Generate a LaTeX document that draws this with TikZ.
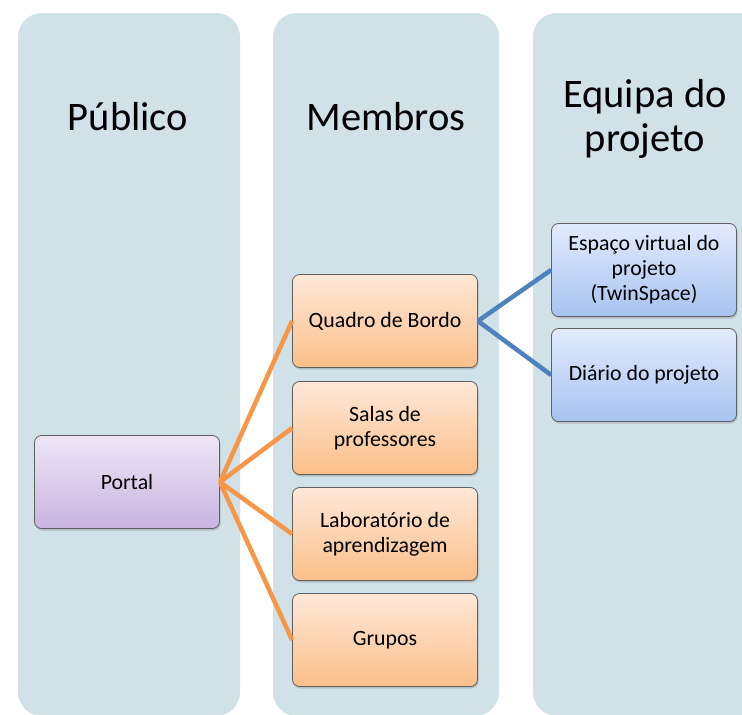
\documentclass[tikz,border=0pt]{standalone}
\usepackage{fontspec}
\setmainfont{Carlito}
\usetikzlibrary{shadows}

\definecolor{lanefill}{RGB}{208,225,232}
\definecolor{boxline}{RGB}{95,95,95}
\definecolor{orangetop}{RGB}{254,232,216}
\definecolor{orangebot}{RGB}{251,191,138}
\definecolor{purpletop}{RGB}{238,230,246}
\definecolor{purplebot}{RGB}{200,180,224}
\definecolor{bluetop}{RGB}{226,235,252}
\definecolor{bluebot}{RGB}{167,195,241}
\definecolor{orangeline}{RGB}{247,150,70}
\definecolor{blueline}{RGB}{79,129,189}

\begin{document}
\begin{tikzpicture}[
	x=1pt, y=-1pt, % pixel coordinates, y going down
	lane/.style={fill=lanefill, rounded corners=24pt, minimum width=#1,
		minimum height=703pt, inner sep=0pt},
	title/.style={font=\fontsize{40.5}{44}\selectfont, align=center},
	box/.style={draw=boxline, line width=0.8pt, rounded corners=7pt,
		minimum width=185pt, minimum height=93pt, align=center,
		font=\fontsize{21.8}{25}\selectfont,
		drop shadow={shadow xshift=1pt, shadow yshift=-2pt, opacity=.35}},
	orangebox/.style={box, top color=orangetop, bottom color=orangebot},
	purplebox/.style={box, top color=purpletop, bottom color=purplebot},
	bluebox/.style={box, top color=bluetop, bottom color=bluebot},
	link/.style={line width=4.5pt} % thick connectors
]
\clip (0,0) rectangle (742,715);

% the three columns
\node[lane=222pt](publicolane) at (129,364.5) {};
\node[lane=226pt](membroslane) at (386,364.5) {};
\node[lane=240pt](equipalane) at (653,364.5) {};

\node[title](publico) at (128,117) {Público};
\node[title](membros) at (386,117) {Membros};
\node[title](equipa) at (645,119) {Equipa do\\projeto};

% boxes
\node[purplebox](portal) at (127,482) {Portal};
\node[orangebox](quadro) at (385,321) {Quadro de Bordo};
\node[orangebox](salas) at (385,428) {Salas de\\professores};
\node[orangebox](lab) at (385,534) {Laboratório de\\aprendizagem};
\node[orangebox](grupos) at (385,640) {Grupos};
\node[bluebox](espaco) at (644,270) {Espaço virtual do\\projeto\\(TwinSpace)};
\node[bluebox](diario) at (644,375) {Diário do projeto};

\path[link,draw=orangeline]
(portal.east) edge (quadro.west)
(portal.east) edge (salas.west)
(portal.east) edge (lab.west)
(portal.east) edge (grupos.west)
;
\path[link,draw=blueline]
(quadro.east) edge (espaco.west)
(quadro.east) edge (diario.west)
;
\end{tikzpicture}
\end{document}
